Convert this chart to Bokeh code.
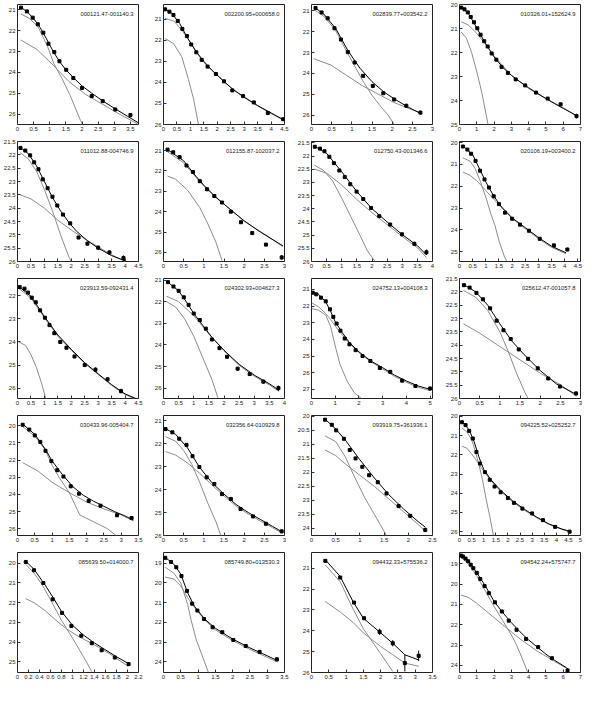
from bokeh.plotting import figure
from bokeh.layouts import gridplot
from bokeh.models import Range1d, FixedTicker, Label, NumeralTickFormatter
from bokeh.embed import file_html
from bokeh.resources import INLINE

NAMES = ["000121.47-001140.3", "002200.95+000658.0", "002839.77+003542.2", "010326.01+152624.9",
         "011012.88-004746.9", "012155.87-102037.2", "012750.43-001346.6", "020106.19+003400.2",
         "023913.59-092431.4", "024302.93+004627.3", "024752.13+004108.3", "025612.47-001057.8",
         "030433.96-005404.7", "032356.64-010929.8", "093919.75+361936.1", "094225.52+025252.7",
         "085639.50+014000.7", "085749.80+013530.3", "094432.33+575536.2", "094542.24+575747.7"]

X_MAX = [3.75, 4.5, 3.0, 7.0, 4.5, 3.0, 4.0, 4.6, 4.5, 4.0, 5.1, 3.0, 3.5, 3.0, 2.5, 5.0, 2.2, 3.5, 3.5, 7.0]
Y_TOP = [20.75, 20.3, 20.7, 20.0, 21.5, 20.55, 21.45, 19.95, 21.25, 20.93, 20.35, 21.5, 19.4, 20.78, 19.97, 19.95, 19.45, 18.45, 20.25, 18.45]
Y_BOTTOM = [26.5, 26.0, 26.45, 25.0, 26.0, 26.45, 26.0, 25.45, 26.45, 26.48, 27.55, 26.0, 26.4, 26.0, 24.25, 26.2, 25.55, 24.55, 26.0, 24.35]

X_TICKS = [
    [0, 0.5, 1, 1.5, 2, 2.5, 3, 3.5],
    [0, 0.5, 1, 1.5, 2, 2.5, 3, 3.5, 4, 4.5],
    [0, 0.5, 1, 1.5, 2, 2.5, 3],
    [0, 1, 2, 3, 4, 5, 6, 7],
    [0, 0.5, 1, 1.5, 2, 2.5, 3, 3.5, 4, 4.5],
    [0, 0.5, 1, 1.5, 2, 2.5, 3],
    [0, 0.5, 1, 1.5, 2, 2.5, 3, 3.5, 4],
    [0, 0.5, 1, 1.5, 2, 2.5, 3, 3.5, 4, 4.5],
    [0, 0.5, 1, 1.5, 2, 2.5, 3, 3.5, 4, 4.5],
    [0, 0.5, 1, 1.5, 2, 2.5, 3, 3.5, 4],
    [0, 1, 2, 3, 4, 5],
    [0, 0.5, 1, 1.5, 2, 2.5, 3],
    [0, 0.5, 1, 1.5, 2, 2.5, 3, 3.5],
    [0, 0.5, 1, 1.5, 2, 2.5, 3],
    [0, 0.5, 1, 1.5, 2, 2.5],
    [0, 0.5, 1, 1.5, 2, 2.5, 3, 3.5, 4, 4.5, 5],
    [0, 0.2, 0.4, 0.6, 0.8, 1, 1.2, 1.4, 1.6, 1.8, 2, 2.2],
    [0, 0.5, 1, 1.5, 2, 2.5, 3, 3.5],
    [0, 0.5, 1, 1.5, 2, 2.5, 3, 3.5],
    [0, 1, 2, 3, 4, 5, 6, 7],
]
Y_TICKS = [
    [21, 22, 23, 24, 25, 26],
    [21, 22, 23, 24, 25, 26],
    [21, 22, 23, 24, 25, 26],
    [20, 21, 22, 23, 24, 25],
    [21.5, 22, 22.5, 23, 23.5, 24, 24.5, 25, 25.5, 26],
    [21, 22, 23, 24, 25, 26],
    [21.5, 22, 22.5, 23, 23.5, 24, 24.5, 25, 25.5, 26],
    [20, 21, 22, 23, 24, 25],
    [22, 23, 24, 25, 26],
    [21, 22, 23, 24, 25, 26],
    [21, 22, 23, 24, 25, 26, 27],
    [21.5, 22, 22.5, 23, 23.5, 24, 24.5, 25, 25.5, 26],
    [20, 21, 22, 23, 24, 25, 26],
    [21, 22, 23, 24, 25, 26],
    [20, 20.5, 21, 21.5, 22, 22.5, 23, 23.5, 24],
    [20, 21, 22, 23, 24, 25, 26],
    [20, 21, 22, 23, 24, 25],
    [19, 20, 21, 22, 23, 24],
    [21, 22, 23, 24, 25, 26],
    [19, 20, 21, 22, 23, 24],
]

# measured points: radius, surface brightness, error
PT_R = [
    [0.11, 0.29, 0.47, 0.63, 0.8, 0.96, 1.14, 1.3, 1.51, 1.73, 2.0, 2.3, 2.64, 3.03, 3.5],
    [0.06, 0.22, 0.37, 0.53, 0.7, 0.87, 1.03, 1.22, 1.42, 1.64, 1.95, 2.25, 2.56, 2.96, 3.36, 3.88, 4.45],
    [0.1, 0.25, 0.4, 0.57, 0.73, 0.9, 1.07, 1.28, 1.52, 1.78, 2.05, 2.35, 2.7],
    [0.1, 0.29, 0.48, 0.65, 0.84, 1.03, 1.22, 1.43, 1.63, 1.86, 2.13, 2.43, 2.8, 3.25, 3.8, 4.43, 5.1, 5.85, 6.77],
    [0.11, 0.29, 0.47, 0.62, 0.78, 0.94, 1.12, 1.3, 1.48, 1.69, 1.96, 2.27, 2.6, 3.0, 3.42, 3.94],
    [0.1, 0.24, 0.4, 0.57, 0.73, 0.9, 1.08, 1.26, 1.45, 1.67, 1.92, 2.2, 2.54, 2.93],
    [0.11, 0.28, 0.43, 0.59, 0.74, 0.92, 1.1, 1.28, 1.49, 1.71, 1.97, 2.24, 2.6, 2.99, 3.4, 3.8],
    [0.13, 0.3, 0.44, 0.61, 0.78, 0.95, 1.12, 1.3, 1.5, 1.73, 2.0, 2.3, 2.64, 3.05, 3.59, 4.1],
    [0.08, 0.26, 0.39, 0.53, 0.68, 0.84, 1.02, 1.19, 1.37, 1.59, 1.82, 2.12, 2.5, 2.9, 3.35, 3.85],
    [0.15, 0.33, 0.5, 0.67, 0.83, 1.0, 1.2, 1.4, 1.6, 1.85, 2.1, 2.45, 2.85, 3.3, 3.8],
    [0.05, 0.2, 0.4, 0.6, 0.78, 0.92, 1.06, 1.22, 1.4, 1.6, 1.86, 2.15, 2.48, 2.88, 3.32, 3.82, 4.38, 5.0],
    [0.11, 0.25, 0.42, 0.58, 0.76, 0.92, 1.09, 1.27, 1.47, 1.7, 1.94, 2.2, 2.49, 2.89],
    [0.15, 0.34, 0.5, 0.66, 0.81, 0.98, 1.15, 1.33, 1.54, 1.78, 2.06, 2.4, 2.88, 3.3],
    [0.05, 0.22, 0.39, 0.57, 0.72, 0.89, 1.07, 1.26, 1.45, 1.67, 1.91, 2.22, 2.54, 2.93],
    [0.28, 0.42, 0.51, 0.67, 0.79, 0.91, 1.05, 1.19, 1.37, 1.55, 1.8, 2.04, 2.35],
    [0.1, 0.25, 0.4, 0.55, 0.7, 0.85, 1.05, 1.25, 1.45, 1.7, 2.0, 2.25, 2.6, 3.0, 3.45, 3.95, 4.55],
    [0.15, 0.3, 0.47, 0.64, 0.81, 0.98, 1.16, 1.35, 1.53, 1.77, 2.02],
    [0.05, 0.22, 0.37, 0.52, 0.68, 0.83, 0.98, 1.17, 1.42, 1.7, 2.02, 2.38, 2.78, 3.28],
    [0.4, 0.83, 1.23, 1.52, 1.97, 2.35, 2.7, 3.1],
    [0.1, 0.2, 0.35, 0.5, 0.65, 0.8, 1.0, 1.2, 1.45, 1.7, 2.05, 2.45, 2.85, 3.3, 3.85, 4.55, 5.35, 6.25],
]
PT_MU = [
    [20.9, 21.08, 21.38, 21.7, 22.1, 22.63, 23.03, 23.47, 23.88, 24.27, 24.75, 25.14, 25.38, 25.78, 26.05],
    [20.53, 20.64, 20.8, 21.08, 21.46, 21.8, 22.2, 22.57, 22.93, 23.25, 23.6, 23.95, 24.38, 24.65, 24.95, 25.45, 25.75],
    [20.87, 21.08, 21.36, 21.84, 22.38, 22.98, 23.48, 24.12, 24.6, 24.95, 25.25, 25.55, 25.88],
    [20.13, 20.2, 20.33, 20.52, 20.74, 20.99, 21.26, 21.53, 21.75, 22.04, 22.3, 22.6, 22.85, 23.12, 23.37, 23.67, 23.92, 24.16, 24.65],
    [21.74, 21.84, 22.02, 22.28, 22.54, 22.92, 23.25, 23.57, 23.9, 24.24, 24.57, 25.1, 25.33, 25.48, 25.66, 25.87],
    [20.95, 21.08, 21.32, 21.73, 22.05, 22.5, 22.9, 23.23, 23.55, 24.0, 24.52, 25.05, 25.62, 26.25],
    [21.65, 21.72, 21.82, 22.03, 22.27, 22.55, 22.8, 23.07, 23.35, 23.63, 23.97, 24.28, 24.6, 24.97, 25.33, 25.65],
    [20.18, 20.32, 20.51, 20.84, 21.29, 21.69, 22.06, 22.46, 22.82, 23.21, 23.49, 23.76, 24.04, 24.41, 24.71, 24.9],
    [21.62, 21.69, 21.86, 22.08, 22.28, 22.63, 22.95, 23.27, 23.62, 24.0, 24.25, 24.63, 25.0, 25.2, 25.62, 26.13],
    [21.1, 21.3, 21.5, 21.8, 22.15, 22.55, 22.85, 23.25, 23.75, 24.15, 24.55, 25.1, 25.35, 25.7, 26.0],
    [21.2, 21.3, 21.5, 21.72, 22.2, 22.65, 23.05, 23.48, 23.95, 24.3, 24.65, 25.0, 25.3, 25.72, 25.95, 26.48, 26.8, 26.95],
    [21.75, 21.84, 22.04, 22.28, 22.62, 23.08, 23.44, 23.77, 24.16, 24.51, 24.87, 25.25, 25.55, 25.81],
    [19.94, 20.22, 20.56, 20.94, 21.46, 22.06, 22.59, 22.96, 23.53, 23.96, 24.38, 24.66, 25.22, 25.38],
    [21.37, 21.51, 21.79, 22.06, 22.55, 23.02, 23.47, 23.76, 24.2, 24.41, 24.85, 25.17, 25.49, 25.82],
    [20.12, 20.3, 20.5, 20.8, 21.2, 21.5, 21.8, 22.1, 22.35, 22.75, 23.2, 23.55, 24.05],
    [20.3, 20.45, 20.75, 21.15, 21.85, 22.45, 22.9, 23.3, 23.65, 23.95, 24.25, 24.5, 24.8, 25.05, 25.4, 25.75, 26.0],
    [19.93, 20.35, 21.0, 21.83, 22.52, 23.18, 23.68, 24.06, 24.42, 24.79, 25.12],
    [18.72, 18.93, 19.2, 19.65, 20.4, 21.05, 21.4, 21.83, 22.25, 22.5, 22.9, 23.2, 23.5, 23.88],
    [20.65, 21.45, 22.65, 23.4, 24.05, 24.6, 25.55, 25.2],
    [18.6, 18.65, 18.75, 18.88, 19.05, 19.22, 19.45, 19.75, 20.1, 20.45, 20.9, 21.35, 21.8, 22.25, 22.7, 23.1, 23.65, 24.25],
]
PT_ERR = [
    [0.03, 0.03, 0.03, 0.03, 0.03, 0.04, 0.04, 0.04, 0.04, 0.05, 0.06, 0.07, 0.07, 0.08, 0.1],
    [0.03, 0.03, 0.03, 0.03, 0.03, 0.03, 0.03, 0.03, 0.03, 0.03, 0.04, 0.05, 0.05, 0.05, 0.06, 0.08, 0.08],
    [0.03, 0.03, 0.03, 0.03, 0.03, 0.03, 0.03, 0.04, 0.05, 0.05, 0.06, 0.08, 0.1],
    [0.03, 0.03, 0.03, 0.03, 0.03, 0.03, 0.03, 0.03, 0.03, 0.03, 0.03, 0.03, 0.03, 0.03, 0.03, 0.04, 0.05, 0.06, 0.1],
    [0.03, 0.03, 0.03, 0.03, 0.03, 0.03, 0.03, 0.03, 0.04, 0.04, 0.05, 0.06, 0.07, 0.08, 0.08, 0.1],
    [0.03, 0.03, 0.03, 0.03, 0.03, 0.03, 0.03, 0.04, 0.04, 0.05, 0.05, 0.06, 0.08, 0.12],
    [0.03, 0.03, 0.03, 0.03, 0.03, 0.03, 0.03, 0.03, 0.04, 0.04, 0.05, 0.06, 0.07, 0.07, 0.08, 0.1],
    [0.03, 0.03, 0.03, 0.03, 0.03, 0.03, 0.03, 0.03, 0.03, 0.04, 0.04, 0.05, 0.05, 0.06, 0.06, 0.08],
    [0.03, 0.03, 0.03, 0.03, 0.03, 0.03, 0.03, 0.03, 0.03, 0.04, 0.04, 0.05, 0.06, 0.1, 0.08, 0.1],
    [0.03, 0.03, 0.03, 0.03, 0.03, 0.03, 0.03, 0.04, 0.04, 0.05, 0.05, 0.08, 0.08, 0.1, 0.12],
    [0.03, 0.03, 0.03, 0.03, 0.03, 0.03, 0.03, 0.03, 0.03, 0.04, 0.04, 0.05, 0.05, 0.06, 0.08, 0.08, 0.1, 0.12],
    [0.03, 0.03, 0.03, 0.03, 0.03, 0.03, 0.03, 0.03, 0.04, 0.04, 0.05, 0.05, 0.06, 0.08],
    [0.03, 0.03, 0.03, 0.03, 0.03, 0.03, 0.03, 0.04, 0.04, 0.05, 0.05, 0.06, 0.1, 0.12],
    [0.03, 0.03, 0.03, 0.03, 0.03, 0.03, 0.03, 0.04, 0.04, 0.05, 0.05, 0.06, 0.07, 0.08],
    [0.03, 0.03, 0.03, 0.05, 0.05, 0.04, 0.04, 0.04, 0.05, 0.06, 0.06, 0.06, 0.08],
    [0.03, 0.03, 0.03, 0.05, 0.06, 0.06, 0.04, 0.04, 0.04, 0.04, 0.04, 0.05, 0.05, 0.05, 0.06, 0.07, 0.08],
    [0.03, 0.03, 0.04, 0.06, 0.05, 0.04, 0.05, 0.05, 0.06, 0.07, 0.1],
    [0.03, 0.03, 0.03, 0.04, 0.05, 0.06, 0.06, 0.05, 0.05, 0.05, 0.05, 0.06, 0.07, 0.1],
    [0.05, 0.06, 0.06, 0.08, 0.15, 0.15, 0.4, 0.25],
    [0.03, 0.03, 0.03, 0.03, 0.03, 0.03, 0.03, 0.03, 0.03, 0.03, 0.03, 0.04, 0.04, 0.04, 0.05, 0.06, 0.07, 0.12],
]

# total model profile
FIT_R = [
    [0.1, 0.3, 0.5, 0.7, 0.9, 1.1, 1.3, 1.5, 1.75, 2.0, 2.3, 2.65, 3.0, 3.4, 3.75],
    [0.05, 0.3, 0.6, 0.9, 1.2, 1.5, 1.8, 2.2, 2.6, 3.0, 3.5, 4.0, 4.5],
    [0.06, 0.3, 0.6, 0.9, 1.2, 1.5, 1.8, 2.1, 2.4, 2.73],
    [0.1, 0.5, 1.0, 1.5, 2.0, 2.5, 3.0, 3.5, 4.0, 4.5, 5.0, 5.5, 6.0, 6.5, 6.8],
    [0.1, 0.4, 0.7, 1.0, 1.3, 1.6, 1.9, 2.2, 2.6, 3.0, 3.5, 4.0],
    [0.1, 0.5, 0.8, 1.0, 1.3, 1.6, 2.0, 2.4, 2.96],
    [0.1, 0.5, 1.0, 1.5, 2.0, 2.5, 3.0, 3.5, 3.8],
    [0.13, 0.5, 0.8, 1.0, 1.3, 1.6, 2.0, 2.5, 3.0, 3.5, 4.05],
    [0.05, 0.5, 1.0, 1.5, 2.0, 2.5, 3.0, 3.5, 4.0, 4.5],
    [0.1, 0.5, 0.8, 1.0, 1.3, 1.6, 2.0, 2.5, 3.0, 3.5, 3.82],
    [0.0, 0.3, 0.6, 0.8, 1.0, 1.3, 1.6, 2.0, 2.5, 3.0, 3.5, 4.0, 4.5, 5.0],
    [0.1, 0.4, 0.7, 1.0, 1.3, 1.6, 2.0, 2.4, 2.9],
    [0.15, 0.5, 0.8, 1.0, 1.3, 1.6, 1.9, 2.2, 2.5, 2.8, 3.1, 3.35],
    [0.05, 0.3, 0.6, 0.9, 1.2, 1.5, 1.8, 2.1, 2.4, 2.7, 2.95],
    [0.28, 0.5, 0.7, 1.0, 1.3, 1.6, 1.9, 2.2, 2.35],
    [0.1, 0.4, 0.6, 0.8, 1.0, 1.3, 1.7, 2.2, 2.7, 3.2, 3.7, 4.2, 4.6],
    [0.15, 0.3, 0.5, 0.65, 0.8, 1.0, 1.2, 1.4, 1.6, 1.8, 2.02],
    [0.05, 0.3, 0.5, 0.7, 0.9, 1.2, 1.5, 2.0, 2.5, 3.0, 3.3],
    [0.4, 0.83, 1.2, 1.5, 2.0, 2.35, 2.7, 3.1],
    [0.1, 0.5, 1.0, 1.5, 2.0, 2.5, 3.0, 3.5, 4.0, 4.5, 5.0, 5.5, 6.2],
]
FIT_MU = [
    [20.88, 21.1, 21.42, 21.85, 22.4, 22.98, 23.48, 23.88, 24.28, 24.65, 25.0, 25.38, 25.72, 26.1, 26.42],
    [20.5, 20.7, 21.2, 21.9, 22.52, 23.0, 23.42, 23.9, 24.35, 24.7, 25.1, 25.45, 25.8],
    [20.82, 21.15, 21.85, 22.9, 23.75, 24.4, 24.9, 25.28, 25.62, 25.95],
    [20.12, 20.35, 20.98, 21.62, 22.18, 22.62, 22.95, 23.22, 23.47, 23.7, 23.92, 24.13, 24.33, 24.52, 24.65],
    [21.72, 21.95, 22.4, 23.0, 23.6, 24.1, 24.52, 24.87, 25.22, 25.5, 25.78, 25.97],
    [20.95, 21.5, 22.25, 22.7, 23.3, 23.8, 24.45, 25.0, 25.68],
    [21.63, 21.9, 22.6, 23.35, 24.0, 24.5, 24.98, 25.4, 25.75],
    [20.15, 20.55, 21.3, 21.8, 22.45, 22.95, 23.45, 23.9, 24.35, 24.75, 25.05],
    [21.6, 22.02, 22.9, 23.7, 24.32, 24.9, 25.38, 25.85, 26.25, 26.5],
    [21.05, 21.5, 22.1, 22.55, 23.1, 23.65, 24.25, 24.9, 25.4, 25.8, 26.1],
    [21.15, 21.3, 21.75, 22.3, 22.95, 23.6, 24.2, 24.75, 25.3, 25.7, 26.15, 26.5, 26.8, 27.0],
    [21.72, 22.0, 22.5, 23.2, 23.85, 24.35, 24.95, 25.45, 25.85],
    [19.9, 20.5, 21.35, 22.05, 22.85, 23.55, 24.05, 24.4, 24.7, 25.0, 25.25, 25.5],
    [21.35, 21.6, 22.2, 23.05, 23.7, 24.2, 24.65, 25.0, 25.3, 25.6, 25.85],
    [20.1, 20.45, 20.85, 21.55, 22.2, 22.8, 23.3, 23.75, 23.95],
    [20.25, 20.7, 21.3, 22.1, 22.75, 23.3, 23.85, 24.4, 24.85, 25.25, 25.6, 25.85, 26.0],
    [19.9, 20.3, 21.1, 21.75, 22.45, 23.15, 23.65, 24.05, 24.4, 24.75, 25.1],
    [18.7, 19.05, 19.55, 20.5, 21.2, 21.85, 22.3, 22.85, 23.3, 23.7, 23.95],
    [20.6, 21.4, 22.6, 23.4, 24.1, 24.6, 25.15, 25.4],
    [18.55, 18.85, 19.45, 20.1, 20.85, 21.4, 21.9, 22.35, 22.75, 23.1, 23.45, 23.75, 24.12],
]

# bulge component
BUL_R = [
    [0.1, 0.35, 0.63, 0.93, 1.13, 1.38, 1.63, 1.95, 2.02],
    [0.06, 0.37, 0.68, 0.93, 1.12, 1.3],
    [0.06, 0.3, 0.6, 0.87, 1.1, 1.3, 1.5, 1.7, 1.9, 2.05],
    [0.1, 0.4, 0.7, 1.0, 1.3, 1.65],
    [0.1, 0.4, 0.7, 1.0, 1.3, 1.6, 1.9, 2.0],
    [0.1, 0.3, 0.6, 0.9, 1.1, 1.3, 1.45],
    [0.1, 0.4, 0.7, 1.0, 1.3, 1.6, 1.85, 2.1],
    [0.13, 0.4, 0.6, 0.8, 1.0, 1.2, 1.35, 1.5, 1.7, 1.8],
    [0.05, 0.3, 0.5, 0.7, 0.9, 1.05],
    [0.1, 0.4, 0.7, 1.0, 1.3, 1.6, 1.8],
    [0.0, 0.3, 0.6, 0.8, 1.0, 1.2, 1.5, 1.8, 2.1],
    [0.1, 0.4, 0.7, 1.0, 1.2, 1.4, 1.6, 1.7],
    [0.15, 0.5, 0.8, 1.0, 1.2, 1.5, 1.8, 2.2, 2.6, 2.85],
    [0.05, 0.3, 0.5, 0.7, 0.9, 1.1, 1.3, 1.42],
    [0.28, 0.5, 0.7, 0.9, 1.1, 1.3, 1.5, 1.55],
    [0.1, 0.3, 0.5, 0.65, 0.8, 0.95, 1.1, 1.25, 1.4],
    [0.15, 0.3, 0.45, 0.6, 0.8, 1.0, 1.2, 1.35],
    [0.05, 0.3, 0.5, 0.7, 0.8, 0.95, 1.1, 1.3],
    [0.4, 0.83, 1.2, 1.5, 2.0, 2.35],
    [0.1, 0.5, 1.0, 1.5, 2.0, 2.5, 3.0, 3.3, 3.6, 3.95],
]
BUL_MU = [
    [21.2, 21.4, 21.8, 22.75, 23.6, 24.3, 25.1, 26.3, 26.5],
    [21.92, 22.15, 22.78, 23.87, 24.8, 26.0],
    [20.95, 21.25, 21.95, 22.95, 23.75, 24.45, 25.05, 25.55, 26.0, 26.45],
    [21.15, 21.4, 22.0, 22.8, 23.7, 25.0],
    [21.92, 22.15, 22.6, 23.3, 24.1, 25.0, 25.8, 26.0],
    [22.25, 22.4, 22.95, 23.8, 24.6, 25.5, 26.4],
    [22.35, 22.55, 22.95, 23.6, 24.3, 25.0, 25.6, 26.0],
    [20.7, 20.85, 21.2, 21.8, 22.5, 23.3, 23.8, 24.5, 25.2, 25.45],
    [24.0, 24.15, 24.55, 25.1, 25.8, 26.45],
    [22.0, 22.25, 22.8, 23.6, 24.6, 25.6, 26.45],
    [22.15, 22.25, 22.55, 23.2, 24.4, 25.5, 26.5, 27.2, 27.55],
    [21.95, 22.2, 22.7, 23.5, 24.2, 25.0, 25.7, 26.0],
    [20.05, 20.6, 21.4, 22.3, 23.0, 23.9, 25.2, 25.6, 26.0, 26.4],
    [21.7, 21.9, 22.3, 22.9, 23.7, 24.6, 25.4, 26.0],
    [20.7, 20.9, 21.45, 22.2, 22.9, 23.5, 24.1, 24.25],
    [20.6, 20.8, 21.2, 21.8, 22.5, 23.3, 24.3, 25.2, 26.2],
    [20.05, 20.5, 21.1, 21.85, 22.9, 23.8, 24.75, 25.5],
    [19.2, 19.5, 20.0, 21.1, 21.9, 22.9, 23.6, 24.55],
    [20.85, 21.65, 22.95, 23.9, 25.1, 25.95],
    [18.7, 19.0, 19.6, 20.35, 21.1, 21.8, 22.5, 23.0, 23.6, 24.35],
]

# disk component
DSK_R = [
    [0.1, 0.6, 1.1, 1.6, 2.1, 2.6, 3.1, 3.75],
    [0.05, 0.4, 0.7, 1.0, 1.3, 1.6, 2.0, 2.5, 3.0, 3.5, 4.0, 4.5],
    [0.06, 0.48, 0.87, 1.27, 1.66, 2.05, 2.44, 2.73],
    [0.1, 0.5, 1.0, 1.5, 2.0, 3.0, 4.0, 5.0, 6.0, 6.8],
    [0.1, 0.5, 1.0, 1.5, 2.0, 2.5, 3.0, 3.5, 4.0],
    [0.1, 0.5, 0.8, 1.0, 1.5, 2.0, 2.5, 2.96],
    [0.1, 0.5, 1.0, 1.5, 2.0, 2.5, 3.0, 3.5, 3.8],
    [0.13, 0.4, 0.7, 1.0, 1.5, 2.0, 2.5, 3.0, 3.5, 4.05],
    [0.05, 0.5, 1.0, 1.5, 2.0, 2.5, 3.0, 3.5, 4.0, 4.5],
    [0.1, 0.5, 1.0, 1.5, 2.0, 2.5, 3.0, 3.5, 3.82],
    [0.0, 0.3, 0.6, 0.8, 1.0, 1.5, 2.0, 2.5, 3.0, 3.5, 4.0, 4.5, 5.0],
    [0.1, 0.5, 1.0, 1.5, 2.0, 2.5, 2.9],
    [0.15, 0.6, 1.0, 1.5, 2.0, 2.5, 3.0, 3.35],
    [0.05, 0.3, 0.6, 0.9, 1.2, 1.5, 1.8, 2.1, 2.4, 2.7, 2.95],
    [0.28, 0.5, 0.7, 1.0, 1.3, 1.6, 1.9, 2.2, 2.35],
    [0.1, 0.3, 0.5, 0.7, 1.0, 1.3, 1.7, 2.2, 2.7, 3.2, 3.7, 4.2, 4.6],
    [0.15, 0.3, 0.5, 0.7, 0.9, 1.1, 1.3, 1.5, 1.7, 2.02],
    [0.05, 0.3, 0.5, 0.7, 0.9, 1.2, 1.5, 2.0, 2.5, 3.0, 3.3],
    [0.4, 0.83, 1.2, 1.5, 2.0, 2.35, 2.7, 3.1],
    [0.1, 0.5, 1.0, 1.5, 2.0, 2.5, 3.0, 3.5, 4.0, 4.5, 5.0, 5.5, 6.2],
]
DSK_MU = [
    [22.45, 22.9, 23.65, 24.45, 25.05, 25.5, 25.95, 26.5],
    [20.95, 21.1, 21.55, 22.1, 22.7, 23.2, 23.65, 24.25, 24.72, 25.12, 25.48, 25.82],
    [23.3, 23.6, 24.1, 24.6, 25.0, 25.4, 25.7, 25.9],
    [20.72, 20.85, 21.2, 21.65, 22.15, 22.95, 23.5, 23.92, 24.3, 24.67],
    [23.5, 23.65, 24.0, 24.45, 24.82, 25.15, 25.45, 25.75, 26.0],
    [21.05, 21.6, 22.3, 22.75, 23.62, 24.47, 25.1, 25.72],
    [22.5, 22.65, 23.1, 23.65, 24.15, 24.6, 25.05, 25.48, 25.85],
    [21.35, 21.5, 21.8, 22.2, 22.85, 23.48, 23.95, 24.4, 24.8, 25.1],
    [21.68, 22.1, 22.95, 23.75, 24.36, 24.93, 25.41, 25.88, 26.28, 26.53],
    [21.75, 22.0, 22.65, 23.5, 24.27, 24.95, 25.45, 25.85, 26.15],
    [21.8, 22.05, 22.45, 22.8, 23.2, 24.1, 24.8, 25.35, 25.78, 26.22, 26.58, 26.88, 27.08],
    [23.2, 23.55, 24.05, 24.55, 25.05, 25.48, 25.92],
    [22.15, 22.65, 23.3, 23.9, 24.45, 24.85, 25.2, 25.55],
    [22.35, 22.5, 22.85, 23.3, 23.8, 24.28, 24.72, 25.07, 25.37, 25.66, 25.9],
    [21.2, 21.4, 21.7, 22.1, 22.5, 22.95, 23.4, 23.85, 24.1],
    [21.55, 21.65, 21.95, 22.3, 22.85, 23.35, 23.9, 24.45, 24.9, 25.28, 25.62, 25.87, 26.02],
    [21.8, 22.0, 22.4, 22.9, 23.35, 23.7, 24.0, 24.3, 24.65, 25.25],
    [19.7, 19.8, 20.15, 20.75, 21.25, 21.9, 22.38, 22.93, 23.38, 23.78, 24.02],
    [22.6, 23.1, 23.6, 24.1, 24.75, 25.15, 25.55, 25.7],
    [20.55, 20.65, 20.95, 21.3, 21.65, 22.0, 22.35, 22.7, 23.0, 23.3, 23.55, 23.8, 24.15],
]

FONT = "Liberation Sans"
COMP_COLOR = "#8c8c8c"


def style_axis(ax, ticks):
    ax.ticker = FixedTicker(ticks=ticks)
    ax.formatter = NumeralTickFormatter(format="0.[0]")
    ax.major_tick_in = 3
    ax.major_tick_out = 0
    ax.minor_tick_line_color = None
    ax.axis_line_color = None
    ax.major_tick_line_color = "#333333"
    ax.major_label_text_font = FONT
    ax.major_label_text_color = "#222222"
    ax.major_label_standoff = 2
    ax.major_label_text_font_size = "6px"


figs = []
for i in range(len(NAMES)):
    p = figure(frame_width=121, frame_height=120,
               x_range=Range1d(0, X_MAX[i]),
               y_range=Range1d(Y_BOTTOM[i], Y_TOP[i]),
               output_backend="svg", toolbar_location=None,
               min_border_left=15, min_border_right=10,
               min_border_top=4, min_border_bottom=13)
    p.grid.visible = False
    p.outline_line_color = "#222222"
    p.outline_line_width = 1
    p.background_fill_color = "white"
    p.border_fill_color = "white"
    style_axis(p.xaxis[0], X_TICKS[i])
    style_axis(p.yaxis[0], Y_TICKS[i])

    p.line(BUL_R[i], BUL_MU[i], line_color=COMP_COLOR, line_width=1)
    p.line(DSK_R[i], DSK_MU[i], line_color=COMP_COLOR, line_width=1)
    p.line(FIT_R[i], FIT_MU[i], line_color="black", line_width=1)

    lo = [m - e for m, e in zip(PT_MU[i], PT_ERR[i])]
    hi = [m + e for m, e in zip(PT_MU[i], PT_ERR[i])]
    p.segment(PT_R[i], lo, PT_R[i], hi, line_color="black", line_width=1)
    p.scatter(PT_R[i], PT_MU[i], marker="square", size=3, fill_color="black", line_color="black")

    p.add_layout(Label(x=X_MAX[i], y=Y_TOP[i], x_offset=-5, y_offset=-7,
                       text=NAMES[i], text_align="right", text_baseline="top",
                       text_font=FONT, text_font_size="5.8px", text_color="#222222"))
    figs.append(p)

grid = gridplot(figs, ncols=4, toolbar_location=None)
open("out.html", "w").write(file_html(grid, INLINE))
